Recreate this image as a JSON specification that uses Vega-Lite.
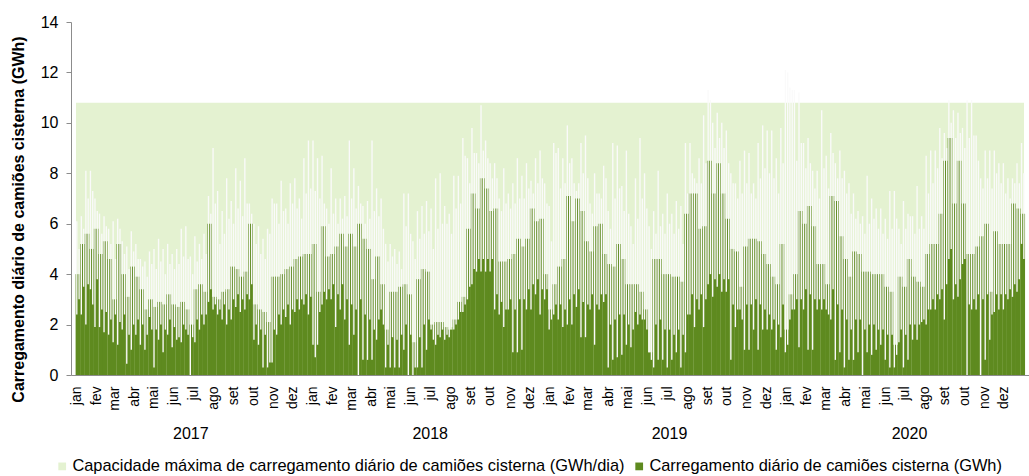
{
"$schema":"https://vega.github.io/schema/vega-lite/v6.json",
"autosize":{"type":"none"},
"width":958,"height":353,
"padding":{"left":71,"top":22,"right":0,"bottom":101},
"background":"#ffffff",
"config":{"font":"Liberation Sans","view":{"stroke":null}},
"datasets":{
"cap":[{"d":"2017-01-01","cap":10.8},{"d":"2021-01-01","cap":10.8}],
"yr":[{"m":"2017-07-02"},{"m":"2018-07-02"},{"m":"2019-07-02"},{"m":"2020-07-02"}],
"w":[
{"d":"2017-01-04","g":4.0,"l1":2.4,"h1":6.1,"l2":3.0,"h2":5.0},
{"d":"2017-01-11","g":5.2,"l1":2.4,"h1":6.3,"l2":3.5,"h2":5.8},
{"d":"2017-01-18","g":5.6,"l1":2.0,"h1":8.1,"l2":3.6,"h2":7.0},
{"d":"2017-01-25","g":5.0,"l1":3.4,"h1":8.1,"l2":2.8,"h2":7.3},
{"d":"2017-02-01","g":5.8,"l1":1.9,"h1":7.0,"l2":3.8,"h2":6.5},
{"d":"2017-02-08","g":4.8,"l1":1.9,"h1":6.4,"l2":2.6,"h2":5.6},
{"d":"2017-02-15","g":5.3,"l1":1.7,"h1":6.3,"l2":2.5,"h2":5.9},
{"d":"2017-02-22","g":4.6,"l1":1.6,"h1":5.8,"l2":2.2,"h2":5.2},
{"d":"2017-03-01","g":3.0,"l1":1.3,"h1":6.1,"l2":2.4,"h2":4.6},
{"d":"2017-03-08","g":5.2,"l1":1.2,"h1":6.2,"l2":2.1,"h2":5.8},
{"d":"2017-03-15","g":4.0,"l1":1.8,"h1":5.3,"l2":2.4,"h2":4.8},
{"d":"2017-03-22","g":3.1,"l1":0.45,"h1":5.1,"l2":1.6,"h2":4.2},
{"d":"2017-03-29","g":4.3,"l1":1.0,"h1":5.7,"l2":2.0,"h2":4.9},
{"d":"2017-04-05","g":3.9,"l1":1.6,"h1":5.2,"l2":2.2,"h2":4.6},
{"d":"2017-04-12","g":3.4,"l1":1.2,"h1":4.6,"l2":2.0,"h2":4.3},
{"d":"2017-04-19","g":2.6,"l1":1.0,"h1":4.5,"l2":1.6,"h2":3.9},
{"d":"2017-04-26","g":3.0,"l1":2.3,"h1":4.9,"l2":1.8,"h2":4.4},
{"d":"2017-05-03","g":2.7,"l1":0.3,"h1":5.0,"l2":1.8,"h2":4.2},
{"d":"2017-05-10","g":2.9,"l1":1.4,"h1":5.4,"l2":2.0,"h2":4.5},
{"d":"2017-05-17","g":2.8,"l1":0.9,"h1":5.0,"l2":1.8,"h2":4.0},
{"d":"2017-05-24","g":3.2,"l1":1.6,"h1":5.2,"l2":2.2,"h2":4.4},
{"d":"2017-05-31","g":2.8,"l1":1.1,"h1":4.8,"l2":1.9,"h2":4.2},
{"d":"2017-06-07","g":2.7,"l1":1.4,"h1":5.0,"l2":1.5,"h2":4.4},
{"d":"2017-06-14","g":2.9,"l1":1.3,"h1":5.8,"l2":2.0,"h2":4.7},
{"d":"2017-06-21","g":2.6,"l1":1.8,"h1":5.9,"l2":1.6,"h2":4.6},
{"d":"2017-06-28","g":2.0,"l1":0.0,"h1":4.7,"l2":1.5,"h2":4.0},
{"d":"2017-07-05","g":3.4,"l1":1.3,"h1":5.5,"l2":2.2,"h2":4.5},
{"d":"2017-07-12","g":3.6,"l1":1.8,"h1":5.2,"l2":2.4,"h2":4.6},
{"d":"2017-07-19","g":3.3,"l1":2.0,"h1":5.6,"l2":2.4,"h2":4.8},
{"d":"2017-07-26","g":6.0,"l1":2.9,"h1":7.1,"l2":3.4,"h2":6.4},
{"d":"2017-08-02","g":3.1,"l1":2.6,"h1":9.0,"l2":2.8,"h2":6.8},
{"d":"2017-08-09","g":3.0,"l1":2.4,"h1":7.3,"l2":2.6,"h2":5.2},
{"d":"2017-08-16","g":3.3,"l1":2.2,"h1":6.5,"l2":2.8,"h2":5.6},
{"d":"2017-08-23","g":3.4,"l1":2.0,"h1":7.8,"l2":2.6,"h2":6.2},
{"d":"2017-08-30","g":4.3,"l1":2.2,"h1":6.9,"l2":3.0,"h2":6.0},
{"d":"2017-09-06","g":4.2,"l1":2.7,"h1":8.2,"l2":3.2,"h2":6.6},
{"d":"2017-09-13","g":3.9,"l1":2.5,"h1":7.7,"l2":3.0,"h2":6.3},
{"d":"2017-09-20","g":4.1,"l1":2.6,"h1":8.6,"l2":3.2,"h2":6.8},
{"d":"2017-09-27","g":6.0,"l1":3.0,"h1":6.8,"l2":3.6,"h2":6.4},
{"d":"2017-10-04","g":2.8,"l1":1.4,"h1":6.0,"l2":2.0,"h2":5.2},
{"d":"2017-10-11","g":2.6,"l1":1.2,"h1":5.9,"l2":1.8,"h2":4.8},
{"d":"2017-10-18","g":2.5,"l1":0.3,"h1":5.4,"l2":1.6,"h2":4.6},
{"d":"2017-10-25","g":2.1,"l1":0.3,"h1":5.8,"l2":0.5,"h2":5.6},
{"d":"2017-11-01","g":3.9,"l1":0.5,"h1":7.0,"l2":1.8,"h2":6.8},
{"d":"2017-11-08","g":3.9,"l1":1.6,"h1":6.8,"l2":2.4,"h2":6.0},
{"d":"2017-11-15","g":4.0,"l1":2.0,"h1":7.7,"l2":2.6,"h2":6.5},
{"d":"2017-11-22","g":4.2,"l1":2.3,"h1":6.6,"l2":2.8,"h2":6.0},
{"d":"2017-11-29","g":4.3,"l1":2.0,"h1":7.6,"l2":2.6,"h2":6.8},
{"d":"2017-12-06","g":4.6,"l1":2.5,"h1":7.8,"l2":3.0,"h2":6.6},
{"d":"2017-12-13","g":4.7,"l1":2.6,"h1":7.0,"l2":3.0,"h2":6.2},
{"d":"2017-12-20","g":4.8,"l1":2.8,"h1":8.6,"l2":3.2,"h2":7.2},
{"d":"2017-12-27","g":4.8,"l1":2.4,"h1":9.3,"l2":3.1,"h2":7.4},
{"d":"2018-01-03","g":5.2,"l1":1.2,"h1":9.3,"l2":0.7,"h2":7.3},
{"d":"2018-01-10","g":3.3,"l1":1.2,"h1":8.6,"l2":2.5,"h2":7.0},
{"d":"2018-01-17","g":5.9,"l1":2.8,"h1":8.7,"l2":3.3,"h2":6.8},
{"d":"2018-01-24","g":4.7,"l1":3.0,"h1":6.6,"l2":3.4,"h2":6.0},
{"d":"2018-01-31","g":4.8,"l1":3.0,"h1":8.2,"l2":3.6,"h2":6.4},
{"d":"2018-02-07","g":5.1,"l1":1.9,"h1":7.0,"l2":3.2,"h2":6.0},
{"d":"2018-02-14","g":5.6,"l1":2.6,"h1":7.0,"l2":3.6,"h2":6.2},
{"d":"2018-02-21","g":5.1,"l1":2.2,"h1":7.1,"l2":3.0,"h2":6.3},
{"d":"2018-02-28","g":5.6,"l1":1.2,"h1":9.3,"l2":2.8,"h2":7.0},
{"d":"2018-03-07","g":5.1,"l1":1.6,"h1":8.2,"l2":2.6,"h2":6.6},
{"d":"2018-03-14","g":6.0,"l1":0.0,"h1":7.5,"l2":3.0,"h2":6.8},
{"d":"2018-03-21","g":5.4,"l1":0.6,"h1":6.7,"l2":2.4,"h2":6.0},
{"d":"2018-03-28","g":5.0,"l1":0.6,"h1":6.9,"l2":2.2,"h2":6.2},
{"d":"2018-04-04","g":3.8,"l1":0.6,"h1":9.3,"l2":1.8,"h2":6.5},
{"d":"2018-04-11","g":4.7,"l1":1.4,"h1":7.4,"l2":2.2,"h2":6.3},
{"d":"2018-04-18","g":3.6,"l1":2.6,"h1":7.0,"l2":2.0,"h2":5.8},
{"d":"2018-04-25","g":1.8,"l1":0.3,"h1":5.2,"l2":1.2,"h2":4.5},
{"d":"2018-05-02","g":3.3,"l1":0.3,"h1":5.2,"l2":1.5,"h2":4.7},
{"d":"2018-05-09","g":3.3,"l1":0.3,"h1":5.0,"l2":1.4,"h2":4.4},
{"d":"2018-05-16","g":3.5,"l1":0.3,"h1":4.9,"l2":1.6,"h2":4.2},
{"d":"2018-05-23","g":3.6,"l1":1.0,"h1":7.2,"l2":2.0,"h2":5.9},
{"d":"2018-05-30","g":3.2,"l1":0.0,"h1":7.2,"l2":1.6,"h2":5.6},
{"d":"2018-06-06","g":1.3,"l1":0.0,"h1":5.3,"l2":0.3,"h2":4.6},
{"d":"2018-06-13","g":3.8,"l1":0.3,"h1":6.5,"l2":1.5,"h2":5.4},
{"d":"2018-06-20","g":4.2,"l1":0.3,"h1":6.7,"l2":2.0,"h2":5.6},
{"d":"2018-06-27","g":4.1,"l1":1.0,"h1":6.9,"l2":2.2,"h2":5.7},
{"d":"2018-07-04","g":2.0,"l1":1.8,"h1":6.6,"l2":1.4,"h2":5.0},
{"d":"2018-07-11","g":2.1,"l1":1.2,"h1":7.8,"l2":1.6,"h2":5.8},
{"d":"2018-07-18","g":2.1,"l1":1.5,"h1":8.0,"l2":1.8,"h2":6.0},
{"d":"2018-07-25","g":1.9,"l1":1.4,"h1":6.7,"l2":1.6,"h2":6.0},
{"d":"2018-08-01","g":1.8,"l1":1.5,"h1":6.4,"l2":1.9,"h2":5.6},
{"d":"2018-08-08","g":2.2,"l1":1.8,"h1":7.9,"l2":2.0,"h2":6.6},
{"d":"2018-08-15","g":2.9,"l1":2.2,"h1":7.9,"l2":2.5,"h2":6.8},
{"d":"2018-08-22","g":3.1,"l1":2.5,"h1":9.4,"l2":2.8,"h2":8.7},
{"d":"2018-08-29","g":5.8,"l1":3.0,"h1":8.6,"l2":3.5,"h2":7.6},
{"d":"2018-09-05","g":7.2,"l1":3.6,"h1":9.8,"l2":4.2,"h2":8.8},
{"d":"2018-09-12","g":6.6,"l1":4.1,"h1":8.8,"l2":4.6,"h2":8.4},
{"d":"2018-09-19","g":7.8,"l1":4.1,"h1":10.7,"l2":4.6,"h2":8.9},
{"d":"2018-09-26","g":7.4,"l1":4.1,"h1":9.3,"l2":4.6,"h2":8.6},
{"d":"2018-10-03","g":6.5,"l1":4.1,"h1":8.4,"l2":4.6,"h2":7.8},
{"d":"2018-10-10","g":6.6,"l1":2.6,"h1":8.4,"l2":3.2,"h2":7.8},
{"d":"2018-10-17","g":4.5,"l1":2.4,"h1":7.0,"l2":2.9,"h2":6.5},
{"d":"2018-10-24","g":4.5,"l1":1.9,"h1":8.2,"l2":2.6,"h2":6.8},
{"d":"2018-10-31","g":4.6,"l1":2.6,"h1":7.2,"l2":3.0,"h2":6.6},
{"d":"2018-11-07","g":4.8,"l1":0.9,"h1":7.6,"l2":2.6,"h2":6.8},
{"d":"2018-11-14","g":5.4,"l1":0.9,"h1":8.6,"l2":3.0,"h2":7.0},
{"d":"2018-11-21","g":5.1,"l1":1.0,"h1":7.9,"l2":3.0,"h2":7.0},
{"d":"2018-11-28","g":5.4,"l1":2.6,"h1":8.4,"l2":3.4,"h2":7.4},
{"d":"2018-12-05","g":6.6,"l1":2.6,"h1":7.7,"l2":3.6,"h2":7.2},
{"d":"2018-12-12","g":6.1,"l1":3.2,"h1":8.6,"l2":3.8,"h2":7.6},
{"d":"2018-12-19","g":6.2,"l1":2.4,"h1":8.9,"l2":3.4,"h2":7.8},
{"d":"2018-12-26","g":4.0,"l1":3.0,"h1":7.6,"l2":3.4,"h2":6.8},
{"d":"2019-01-02","g":2.6,"l1":1.8,"h1":6.7,"l2":2.2,"h2":5.3},
{"d":"2019-01-09","g":3.6,"l1":2.4,"h1":9.2,"l2":2.8,"h2":8.8},
{"d":"2019-01-16","g":4.3,"l1":2.2,"h1":9.0,"l2":2.8,"h2":7.4},
{"d":"2019-01-23","g":4.6,"l1":1.9,"h1":8.6,"l2":2.6,"h2":7.6},
{"d":"2019-01-30","g":7.1,"l1":2.0,"h1":9.9,"l2":3.0,"h2":8.4},
{"d":"2019-02-06","g":6.1,"l1":2.0,"h1":8.6,"l2":3.2,"h2":7.6},
{"d":"2019-02-13","g":7.0,"l1":2.7,"h1":7.3,"l2":3.4,"h2":7.6},
{"d":"2019-02-20","g":6.5,"l1":1.5,"h1":9.2,"l2":2.9,"h2":8.0},
{"d":"2019-02-27","g":5.3,"l1":1.5,"h1":9.5,"l2":2.8,"h2":7.8},
{"d":"2019-03-06","g":4.9,"l1":2.6,"h1":6.8,"l2":3.2,"h2":6.4},
{"d":"2019-03-13","g":5.9,"l1":1.2,"h1":8.0,"l2":2.8,"h2":7.2},
{"d":"2019-03-20","g":6.0,"l1":2.6,"h1":7.2,"l2":3.2,"h2":7.0},
{"d":"2019-03-27","g":4.8,"l1":2.9,"h1":8.3,"l2":3.2,"h2":7.8},
{"d":"2019-04-03","g":4.4,"l1":0.3,"h1":6.5,"l2":2.0,"h2":5.8},
{"d":"2019-04-10","g":4.3,"l1":0.6,"h1":9.2,"l2":2.2,"h2":7.0},
{"d":"2019-04-17","g":5.2,"l1":0.7,"h1":9.1,"l2":2.4,"h2":7.4},
{"d":"2019-04-24","g":4.6,"l1":0.8,"h1":7.5,"l2":2.4,"h2":6.5},
{"d":"2019-05-01","g":3.6,"l1":1.2,"h1":8.9,"l2":2.0,"h2":6.4},
{"d":"2019-05-08","g":3.6,"l1":1.1,"h1":5.9,"l2":1.8,"h2":5.2},
{"d":"2019-05-15","g":3.6,"l1":2.5,"h1":7.8,"l2":2.0,"h2":6.2},
{"d":"2019-05-22","g":3.3,"l1":2.4,"h1":9.4,"l2":2.2,"h2":7.0},
{"d":"2019-05-29","g":2.6,"l1":2.2,"h1":8.0,"l2":1.8,"h2":6.6},
{"d":"2019-06-05","g":0.9,"l1":0.9,"h1":5.9,"l2":0.6,"h2":5.0},
{"d":"2019-06-12","g":4.6,"l1":0.3,"h1":6.5,"l2":2.0,"h2":5.6},
{"d":"2019-06-19","g":4.6,"l1":0.6,"h1":8.1,"l2":2.2,"h2":5.9},
{"d":"2019-06-26","g":4.0,"l1":0.6,"h1":6.4,"l2":1.8,"h2":5.6},
{"d":"2019-07-03","g":4.0,"l1":0.3,"h1":7.2,"l2":1.8,"h2":6.0},
{"d":"2019-07-10","g":3.9,"l1":0.6,"h1":6.4,"l2":1.6,"h2":5.6},
{"d":"2019-07-17","g":3.9,"l1":0.9,"h1":6.9,"l2":1.8,"h2":5.8},
{"d":"2019-07-24","g":3.7,"l1":0.3,"h1":6.7,"l2":1.6,"h2":5.2},
{"d":"2019-07-31","g":6.4,"l1":0.9,"h1":9.2,"l2":2.4,"h2":7.2},
{"d":"2019-08-07","g":7.2,"l1":2.4,"h1":9.2,"l2":3.2,"h2":8.0},
{"d":"2019-08-14","g":7.2,"l1":1.9,"h1":7.8,"l2":3.0,"h2":7.6},
{"d":"2019-08-21","g":5.8,"l1":2.6,"h1":8.6,"l2":3.2,"h2":7.6},
{"d":"2019-08-28","g":5.9,"l1":1.9,"h1":10.3,"l2":3.0,"h2":8.4},
{"d":"2019-09-04","g":8.5,"l1":3.6,"h1":11.3,"l2":4.0,"h2":10.9},
{"d":"2019-09-11","g":7.2,"l1":3.1,"h1":10.0,"l2":3.8,"h2":9.0},
{"d":"2019-09-18","g":8.4,"l1":3.5,"h1":10.4,"l2":4.0,"h2":9.4},
{"d":"2019-09-25","g":7.2,"l1":3.3,"h1":10.0,"l2":3.8,"h2":9.0},
{"d":"2019-10-02","g":6.2,"l1":3.3,"h1":9.7,"l2":3.8,"h2":8.4},
{"d":"2019-10-09","g":5.0,"l1":0.6,"h1":8.0,"l2":2.8,"h2":7.6},
{"d":"2019-10-16","g":4.9,"l1":1.9,"h1":7.6,"l2":2.6,"h2":7.0},
{"d":"2019-10-23","g":3.5,"l1":2.6,"h1":8.5,"l2":2.2,"h2":7.2},
{"d":"2019-10-30","g":5.1,"l1":1.0,"h1":8.9,"l2":2.8,"h2":7.6},
{"d":"2019-11-06","g":5.4,"l1":1.0,"h1":8.8,"l2":2.8,"h2":7.2},
{"d":"2019-11-13","g":5.4,"l1":1.8,"h1":7.6,"l2":3.0,"h2":7.0},
{"d":"2019-11-20","g":5.3,"l1":1.0,"h1":9.2,"l2":2.8,"h2":7.8},
{"d":"2019-11-27","g":4.8,"l1":1.8,"h1":9.9,"l2":2.6,"h2":8.2},
{"d":"2019-12-04","g":4.4,"l1":1.8,"h1":9.7,"l2":2.4,"h2":8.0},
{"d":"2019-12-11","g":3.9,"l1":1.8,"h1":9.7,"l2":2.2,"h2":7.8},
{"d":"2019-12-18","g":3.6,"l1":1.0,"h1":8.6,"l2":2.0,"h2":7.2},
{"d":"2019-12-25","g":5.2,"l1":1.5,"h1":9.8,"l2":2.8,"h2":8.4},
{"d":"2020-01-01","g":1.8,"l1":0.9,"h1":12.1,"l2":1.2,"h2":12.0},
{"d":"2020-01-08","g":3.2,"l1":2.2,"h1":11.4,"l2":2.6,"h2":11.3},
{"d":"2020-01-15","g":4.0,"l1":2.6,"h1":11.3,"l2":3.0,"h2":8.5},
{"d":"2020-01-22","g":6.5,"l1":1.1,"h1":11.2,"l2":3.0,"h2":9.2},
{"d":"2020-01-29","g":6.0,"l1":2.6,"h1":9.2,"l2":3.4,"h2":8.2},
{"d":"2020-02-05","g":6.7,"l1":1.0,"h1":9.4,"l2":3.2,"h2":8.4},
{"d":"2020-02-12","g":5.9,"l1":1.0,"h1":8.1,"l2":3.0,"h2":7.4},
{"d":"2020-02-19","g":4.4,"l1":2.6,"h1":8.1,"l2":3.0,"h2":7.0},
{"d":"2020-02-26","g":4.4,"l1":2.6,"h1":10.5,"l2":3.0,"h2":8.2},
{"d":"2020-03-04","g":3.6,"l1":2.6,"h1":8.7,"l2":2.4,"h2":7.4},
{"d":"2020-03-11","g":7.1,"l1":2.2,"h1":9.6,"l2":3.4,"h2":8.8},
{"d":"2020-03-18","g":6.9,"l1":0.6,"h1":8.4,"l2":2.8,"h2":7.8},
{"d":"2020-03-25","g":5.5,"l1":0.9,"h1":8.9,"l2":2.6,"h2":7.8},
{"d":"2020-04-01","g":4.6,"l1":0.3,"h1":8.1,"l2":2.2,"h2":7.2},
{"d":"2020-04-08","g":3.9,"l1":0.6,"h1":7.6,"l2":1.8,"h2":6.4},
{"d":"2020-04-15","g":4.9,"l1":0.6,"h1":7.2,"l2":2.2,"h2":6.2},
{"d":"2020-04-22","g":4.8,"l1":0.9,"h1":6.5,"l2":2.2,"h2":6.0},
{"d":"2020-04-29","g":4.1,"l1":0.0,"h1":6.3,"l2":1.8,"h2":5.6},
{"d":"2020-05-06","g":4.1,"l1":0.9,"h1":7.9,"l2":2.0,"h2":6.0},
{"d":"2020-05-13","g":4.0,"l1":0.8,"h1":7.0,"l2":2.0,"h2":6.2},
{"d":"2020-05-20","g":4.0,"l1":1.0,"h1":6.6,"l2":1.8,"h2":5.8},
{"d":"2020-05-27","g":4.0,"l1":1.2,"h1":6.6,"l2":1.8,"h2":5.6},
{"d":"2020-06-03","g":3.5,"l1":0.6,"h1":6.2,"l2":1.6,"h2":5.4},
{"d":"2020-06-10","g":3.3,"l1":0.3,"h1":7.3,"l2":1.6,"h2":5.8},
{"d":"2020-06-17","g":1.2,"l1":0.3,"h1":7.3,"l2":0.8,"h2":6.2},
{"d":"2020-06-24","g":3.9,"l1":1.3,"h1":5.8,"l2":1.8,"h2":5.2},
{"d":"2020-07-01","g":3.5,"l1":0.3,"h1":6.9,"l2":1.6,"h2":5.8},
{"d":"2020-07-08","g":4.6,"l1":0.6,"h1":6.4,"l2":2.0,"h2":6.3},
{"d":"2020-07-15","g":3.9,"l1":1.4,"h1":6.3,"l2":2.0,"h2":5.6},
{"d":"2020-07-22","g":3.7,"l1":1.4,"h1":7.5,"l2":2.0,"h2":5.8},
{"d":"2020-07-29","g":3.5,"l1":2.1,"h1":6.3,"l2":2.2,"h2":5.8},
{"d":"2020-08-05","g":4.8,"l1":2.0,"h1":8.7,"l2":2.6,"h2":7.2},
{"d":"2020-08-12","g":5.2,"l1":2.6,"h1":8.9,"l2":3.0,"h2":7.6},
{"d":"2020-08-19","g":5.2,"l1":2.6,"h1":8.9,"l2":3.2,"h2":8.2},
{"d":"2020-08-26","g":6.4,"l1":3.0,"h1":9.8,"l2":3.4,"h2":8.6},
{"d":"2020-09-02","g":8.5,"l1":2.2,"h1":9.6,"l2":3.6,"h2":9.0},
{"d":"2020-09-09","g":9.4,"l1":4.6,"h1":10.9,"l2":5.0,"h2":10.0},
{"d":"2020-09-16","g":6.8,"l1":3.0,"h1":10.5,"l2":3.6,"h2":9.4},
{"d":"2020-09-23","g":8.5,"l1":3.1,"h1":10.4,"l2":3.8,"h2":9.6},
{"d":"2020-09-30","g":6.8,"l1":4.4,"h1":9.8,"l2":4.6,"h2":9.0},
{"d":"2020-10-07","g":4.8,"l1":0.0,"h1":10.9,"l2":2.8,"h2":9.4},
{"d":"2020-10-14","g":4.8,"l1":2.6,"h1":10.9,"l2":3.0,"h2":9.5},
{"d":"2020-10-21","g":5.1,"l1":2.6,"h1":9.5,"l2":3.2,"h2":8.5},
{"d":"2020-10-28","g":5.5,"l1":0.0,"h1":7.8,"l2":3.0,"h2":7.4},
{"d":"2020-11-04","g":6.0,"l1":0.6,"h1":8.9,"l2":3.2,"h2":7.8},
{"d":"2020-11-11","g":3.3,"l1":1.4,"h1":8.9,"l2":2.4,"h2":7.4},
{"d":"2020-11-18","g":5.7,"l1":2.5,"h1":8.9,"l2":3.2,"h2":8.0},
{"d":"2020-11-25","g":5.2,"l1":2.6,"h1":8.4,"l2":3.2,"h2":7.6},
{"d":"2020-12-02","g":5.2,"l1":2.6,"h1":8.4,"l2":3.2,"h2":7.2},
{"d":"2020-12-09","g":5.2,"l1":3.0,"h1":7.8,"l2":3.4,"h2":7.0},
{"d":"2020-12-16","g":6.8,"l1":3.1,"h1":7.8,"l2":3.6,"h2":7.6},
{"d":"2020-12-23","g":6.6,"l1":3.3,"h1":8.4,"l2":3.8,"h2":7.6},
{"d":"2020-12-30","g":6.4,"l1":5.2,"h1":9.2,"l2":4.6,"h2":8.0}
]},
"resolve":{"scale":{"x":"independent"},"axis":{"x":"independent"}},
"layer":[
{
"encoding":{"x":{"field":"d","type":"temporal","title":null,
 "scale":{"type":"utc","domain":[{"year":2017,"month":1,"date":1,"utc":true},{"year":2021,"month":1,"date":1,"utc":true}]},
 "axis":{"title":null,"grid":false,"ticks":false,"tickCount":{"interval":"month","step":1},
  "labelExpr":"utcyear(datum.value) > 2020 ? '' : ['jan','fev','mar','abr','mai','jun','jul','ago','set','out','nov','dez'][utcmonth(datum.value)]",
  "labelAngle":270,"labelFontSize":14,"labelColor":"#000000","labelPadding":11,"labelOverlap":false,"labelFlush":false,
  "domainColor":"#8c8c8c","domainWidth":1}}},
"layer":[
{"data":{"name":"cap"},"mark":{"type":"area"},
 "encoding":{
  "y":{"field":"cap","type":"quantitative","scale":{"domain":[0,14]},
   "axis":{"title":"Carregamento diário de camiões cisterna (GWh)","values":[0,2,4,6,8,10,12,14],"grid":false,
    "labelFontSize":16,"labelColor":"#000000","labelPadding":8,"tickSize":5,"tickColor":"#8c8c8c","domainColor":"#8c8c8c",
    "titleFontSize":16,"titleFontWeight":"bold","titleColor":"#000000","titleX":-53,"titleY":197,"titleBaseline":"middle"}},
  "color":{"datum":"Capacidade máxima de carregamento diário de camiões cisterna (GWh/dia)","type":"nominal",
   "scale":{"domain":["Capacidade máxima de carregamento diário de camiões cisterna (GWh/dia)","Carregamento diário de camiões cisterna (GWh)"],"range":["#E4F2D1","#5E8A1F"]},
   "legend":{"orient":"none","legendX":-17,"legendY":436,"direction":"horizontal","title":null,"symbolType":"square","symbolSize":60,
    "labelFontSize":16.4,"labelColor":"#000000","labelLimit":1000,"labelOffset":2,"columnPadding":6,"padding":0,"symbolStrokeWidth":0}}}},
{"data":{"name":"w"},"mark":{"type":"bar","width":4.7,"clip":true},
 "encoding":{"y":{"field":"g","type":"quantitative"},
  "color":{"datum":"Carregamento diário de camiões cisterna (GWh)","type":"nominal"}}},
{"data":{"name":"w"},"mark":{"type":"rule","color":"#FAFAFA","strokeWidth":1.35,"xOffset":-1.15,"clip":true},
 "encoding":{"y":{"field":"l1","type":"quantitative"},"y2":{"field":"h1"}}},
{"data":{"name":"w"},"mark":{"type":"rule","color":"#FAFAFA","strokeWidth":1.35,"xOffset":1.15,"clip":true},
 "encoding":{"y":{"field":"l2","type":"quantitative"},"y2":{"field":"h2"}}}
]},
{"data":{"name":"yr"},"mark":{"type":"point","opacity":0},
 "encoding":{"x":{"field":"m","type":"temporal","title":null,
  "scale":{"type":"utc","domain":[{"year":2017,"month":1,"date":1,"utc":true},{"year":2021,"month":1,"date":1,"utc":true}]},
  "axis":{"orient":"bottom","title":null,"grid":false,"ticks":false,"domain":false,
   "values":[{"year":2017,"month":7,"date":2,"utc":true},{"year":2018,"month":7,"date":2,"utc":true},{"year":2019,"month":7,"date":2,"utc":true},{"year":2020,"month":7,"date":2,"utc":true}],
   "labelExpr":"utcFormat(datum.value,'%Y')","labelAngle":0,"labelFontSize":16,"labelColor":"#000000","labelPadding":50,"labelBaseline":"top"}}}}
]
}
